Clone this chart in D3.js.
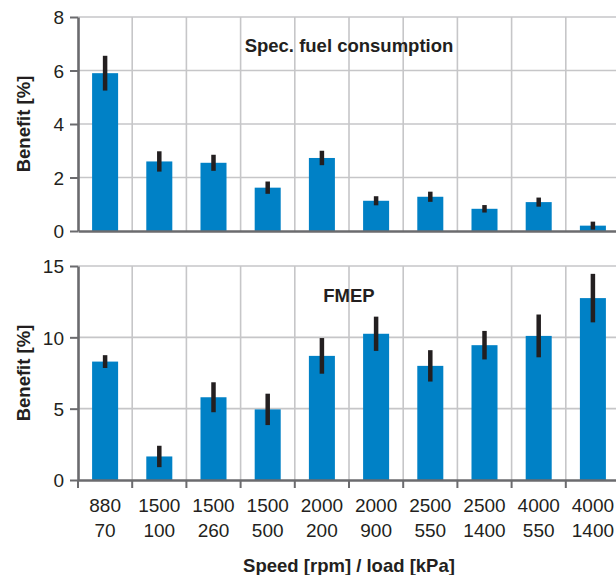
<!DOCTYPE html>
<html>
<head>
<meta charset="utf-8">
<script src="https://cdn.jsdelivr.net/npm/d3@7"></script>
<style>
  body { margin: 0; background: #fff; }
  svg { display: block; overflow: hidden; }
  text { font-family: "Liberation Sans", Arial, sans-serif; fill: #231f20; }
  .tick text { font-size: 19px; }
  .bold { font-weight: bold; font-size: 18.5px; }
</style>
</head>
<body>
<script>
// data
let speeds = ["880","1500","1500","1500","2000","2000","2500","2500","4000","4000"];
let loads  = ["70","100","260","500","200","900","550","1400","550","1400"];
let sfc    = [5.9, 2.6, 2.55, 1.62, 2.73, 1.13, 1.28, 0.83, 1.08, 0.2];
let sfcErr = [0.65, 0.38, 0.3, 0.23, 0.27, 0.17, 0.19, 0.14, 0.17, 0.15];
let fmep   = [8.3, 1.65, 5.8, 4.95, 8.7, 10.25, 8.0, 9.45, 10.1, 12.75];
let fmepErr= [0.45, 0.75, 1.05, 1.1, 1.25, 1.2, 1.1, 1.0, 1.5, 1.7];
let sfcTicks  = [0, 2, 4, 6, 8];
let fmepTicks = [0, 5, 10, 15];

let W = 616, H = 575;
let left = 78, right = 620;
let blue = "#0081c6", gridCol = "#c6c6c8", axisCol = "#6b6b6e";

let svg = d3.select("body").append("svg")
    .attr("width", W).attr("height", H);

let cats = speeds.map((s,i) => i);
let x = d3.scaleBand().domain(cats).range([left, right]);

let panel = (vals, errs, ticks, yTop, yBot, title, titleY, showX) => {
    let y = d3.scaleLinear().domain([0, d3.max(ticks)]).range([yBot, yTop]);
    let g = svg.append("g");

    // horizontal grid
    g.append("g")
        .selectAll("line").data(ticks.slice(1)).join("line")
        .attr("x1", left).attr("x2", W)
        .attr("y1", d => y(d)).attr("y2", d => y(d))
        .attr("stroke", gridCol).attr("stroke-width", 1.6);
    // vertical grid at band edges
    g.append("g")
        .selectAll("line").data(cats.slice(1)).join("line")
        .attr("x1", d => x(d)).attr("x2", d => x(d))
        .attr("y1", yTop).attr("y2", yBot)
        .attr("stroke", gridCol).attr("stroke-width", 1.6);

    // bars
    let bw = x.bandwidth() * 0.48;
    g.append("g")
        .selectAll("rect").data(vals).join("rect")
        .attr("x", (d,i) => x(i) + (x.bandwidth() - bw) / 2)
        .attr("width", bw)
        .attr("y", d => y(d))
        .attr("height", d => y(0) - y(d))
        .attr("fill", blue);

    // error bars
    g.append("g")
        .selectAll("line").data(vals).join("line")
        .attr("x1", (d,i) => x(i) + x.bandwidth() / 2)
        .attr("x2", (d,i) => x(i) + x.bandwidth() / 2)
        .attr("y1", (d,i) => y(d + errs[i]))
        .attr("y2", (d,i) => y(Math.max(0, d - errs[i])))
        .attr("stroke", "#231f20").attr("stroke-width", 4.5);

    // y axis
    let ya = g.append("g")
        .attr("transform", "translate(" + left + ",0)")
        .call(d3.axisLeft(y).tickValues(ticks).tickSize(8).tickSizeOuter(0).tickPadding(6));
    ya.selectAll("line").attr("stroke", axisCol).attr("stroke-width", 2);
    ya.select(".domain").attr("stroke", axisCol).attr("stroke-width", 2.6);
    ya.selectAll("text").attr("fill", "#333").attr("dy", "0.36em");
    ya.attr("font-family", null).attr("font-size", null);

    // x axis line
    let xa = g.append("g")
        .attr("transform", "translate(0," + yBot + ")")
        .call(d3.axisBottom(x).tickValues(showX ? cats.slice(1) : []).tickSize(showX ? 8 : 0).tickSizeOuter(0));
    xa.selectAll(".tick line").attr("stroke", axisCol).attr("stroke-width", 2)
        .attr("transform", "translate(" + (-x.bandwidth() / 2) + ",0)");
    xa.selectAll(".tick text").remove();
    xa.select(".domain").attr("stroke", axisCol).attr("stroke-width", 2.6);
    if (showX) {
        xa.append("line").attr("x1", left).attr("x2", left).attr("y1", 0).attr("y2", 8)
            .attr("stroke", axisCol).attr("stroke-width", 2);
        let lab = xa.selectAll(".lab").data(cats).join("g")
            .attr("class", "tick lab")
            .attr("transform", d => "translate(" + (x(d) + x.bandwidth() / 2) + ",0)");
        lab.append("text").attr("y", 32).attr("text-anchor", "middle").attr("fill", "#333")
            .text(d => speeds[d]);
        lab.append("text").attr("y", 57).attr("text-anchor", "middle").attr("fill", "#333")
            .text(d => loads[d]);
    }

    // panel title
    svg.append("text").attr("class", "bold")
        .attr("x", (left + right) / 2).attr("y", titleY)
        .attr("text-anchor", "middle").text(title);

    // y label
    svg.append("text").attr("class", "bold")
        .attr("transform", "translate(30," + (yTop + yBot) / 2 + ") rotate(-90)")
        .attr("text-anchor", "middle").text("Benefit [%]");
};

panel(sfc, sfcErr, sfcTicks, 17, 231, "Spec. fuel consumption", 52, false);
panel(fmep, fmepErr, fmepTicks, 266, 480, "FMEP", 302, true);

svg.append("text").attr("class", "bold")
    .attr("x", (left + right) / 2).attr("y", 572)
    .attr("text-anchor", "middle")
    .text("Speed [rpm] / load [kPa]");
</script>
</body>
</html>
